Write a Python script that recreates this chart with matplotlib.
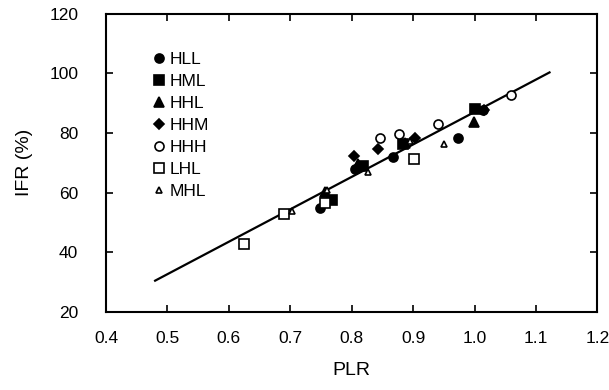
import matplotlib
matplotlib.use("Agg")
import matplotlib.pyplot as plt

plt.rcParams["font.family"] = ["Liberation Sans", "DejaVu Sans"]

# PLR / IFR(%) per group
hll_x = [0.748, 0.806, 0.868, 0.973, 1.013]
hll_y = [54.8, 68.0, 71.8, 78.2, 87.6]
hml_x = [0.768, 0.818, 0.884, 1.000]
hml_y = [57.7, 69.0, 76.2, 87.9]
hhl_x = [0.757, 0.810, 0.886, 0.999]
hhl_y = [60.3, 69.5, 76.8, 83.8]
hhm_x = [0.803, 0.843, 0.903, 1.015]
hhm_y = [72.3, 74.6, 78.4, 87.8]
hhh_x = [0.846, 0.877, 0.941, 1.060]
hhh_y = [78.4, 79.8, 82.9, 92.6]
lhl_x = [0.625, 0.690, 0.756, 0.902]
lhl_y = [42.9, 52.7, 56.5, 71.2]
mhl_x = [0.703, 0.760, 0.826, 0.895, 0.951]
mhl_y = [53.9, 61.0, 66.8, 77.3, 76.2]

# regression line end points
fit_x = [0.48, 1.122]
fit_y = [30.5, 100.3]

series = [
    ("HLL", hll_x, hll_y, "o", "black", 6.5),
    ("HML", hml_x, hml_y, "s", "black", 6.5),
    ("HHL", hhl_x, hhl_y, "^", "black", 7),
    ("HHM", hhm_x, hhm_y, "D", "black", 5),
    ("HHH", hhh_x, hhh_y, "o", "white", 6.5),
    ("LHL", lhl_x, lhl_y, "s", "white", 7),
    ("MHL", mhl_x, mhl_y, "^", "white", 5),
]

fig = plt.figure(figsize=(6.09, 3.9), dpi=100)
ax = fig.add_axes([0.174, 0.2, 0.807, 0.765])

ax.plot(fit_x, fit_y, color="black", lw=1.6, zorder=2)
for name, xs, ys, mk, fc, ms in series:
    ax.plot(xs, ys, ls="none", marker=mk, ms=ms, mfc=fc, mec="black",
            mew=1.2, label=name, zorder=3)

ax.set_xlim(0.4, 1.2)
ax.set_ylim(20, 120)
ax.set_xticks([0.4, 0.5, 0.6, 0.7, 0.8, 0.9, 1.0, 1.1, 1.2])
ax.set_xticklabels(["0.4", "0.5", "0.6", "0.7", "0.8", "0.9", "1.0", "1.1", "1.2"])
ax.set_yticks([20, 40, 60, 80, 100, 120])
ax.tick_params(direction="in", top=True, right=True, length=5, width=1.2,
               labelsize=12.5)
ax.tick_params(axis="x", pad=14)
ax.tick_params(axis="y", pad=20)
for s in ax.spines.values():
    s.set_linewidth(1.5)

ax.set_xlabel("PLR", fontsize=14, labelpad=11)
ax.set_ylabel("IFR (%)", fontsize=14, labelpad=12)

ax.legend(loc="upper left", bbox_to_anchor=(0.08, 0.895), frameon=False,
          fontsize=12.5, handlelength=0.8, handletextpad=0.2,
          labelspacing=0.39, borderaxespad=0)

fig.savefig("out.png", dpi=100)
